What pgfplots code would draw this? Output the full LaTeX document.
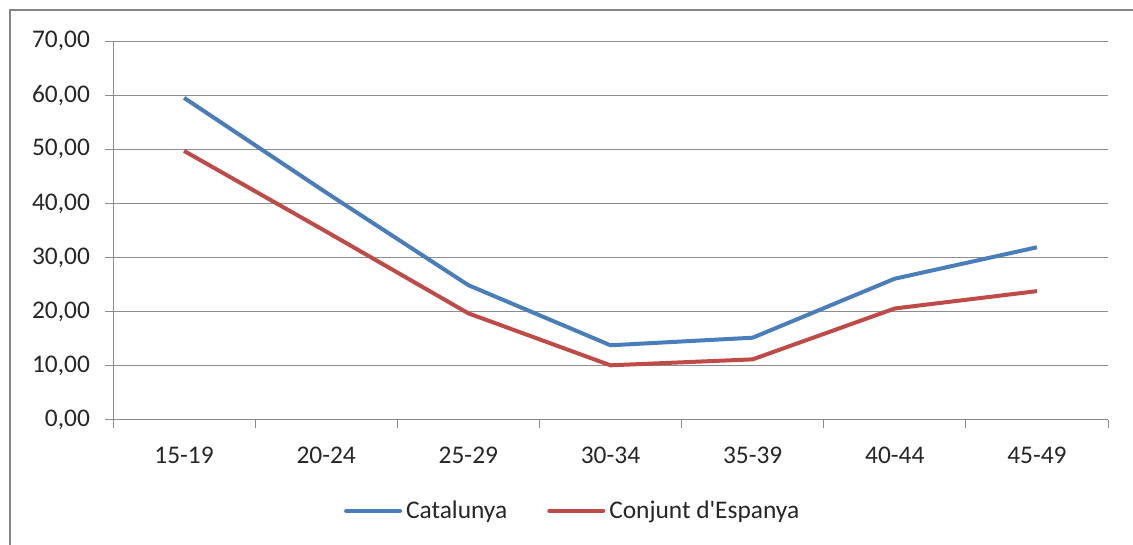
\documentclass[border=0pt]{standalone}
\usepackage{fontspec}
\setmainfont{Carlito}
\usepackage{pgfplots}
\pgfplotsset{compat=1.18}
\definecolor{cblue}{HTML}{4A7EBB}
\definecolor{cred}{HTML}{BE4B48}
\definecolor{gridc}{HTML}{8C8C8C}
\definecolor{framec}{HTML}{868686}
\begin{document}
\begin{tikzpicture}[x=1pt,y=1pt]
\path[use as bounding box] (0,0) rectangle (566.5,272.5);
\draw[framec, line width=1pt] (5,-2) -- (5,267.5) -- (570,267.5);
\begin{axis}[
  at={(56.5pt,62.5pt)}, anchor=south west,
  scale only axis, width=497.5pt, height=189.5pt,
  xmin=-0.5, xmax=6.5, ymin=0, ymax=70,
  axis lines*=left,
  axis line style={gridc, line width=0.5pt},
  xtick={0,...,6},
  xticklabels={15-19,20-24,25-29,30-34,35-39,40-44,45-49},
  minor xtick={-0.5,0.5,...,6.5},
  ytick={0,10,...,70},
  ymajorgrids,
  grid style={gridc, line width=0.5pt},
  tick align=outside,
  major tick length=4pt,
  minor tick length=4pt,
  major x tick style={draw=none},
  minor x tick style={gridc, line width=0.5pt},
  major y tick style={gridc, line width=0.5pt},
  font=\fontsize{12.7pt}{15pt}\selectfont,
  tick label style={black!85},
  xticklabel style={yshift=-6pt},
  yticklabel style={xshift=-4pt},
  /pgf/number format/.cd, fixed, fixed zerofill, precision=2, use comma, assume math mode=true,
  /pgfplots/.cd,
  legend style={draw=none, at={(0.463,-0.24)}, anchor=center, font=\fontsize{12.7pt}{15pt}\selectfont, text=black!85},
  legend columns=2,
  legend cell align=left,
  /tikz/every even column/.append style={column sep=18pt},
  legend image code/.code={\draw[#1, line cap=round] (0pt,0pt) -- (27pt,0pt);},
]
\addplot[cblue, line width=2pt, line join=round] coordinates {(0,59.5) (1,42.0) (2,24.9) (3,13.8) (4,15.2) (5,26.1) (6,31.9)};
\addlegendentry{Catalunya}
\addplot[cred, line width=2pt, line join=round] coordinates {(0,49.7) (1,34.8) (2,19.7) (3,10.1) (4,11.2) (5,20.6) (6,23.8)};
\addlegendentry{Conjunt d\textquotesingle Espanya}
\end{axis}
\end{tikzpicture}
\end{document}
